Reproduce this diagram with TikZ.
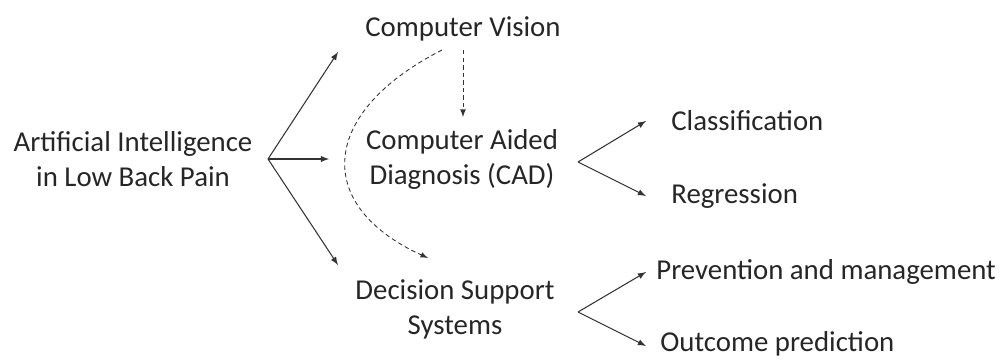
\documentclass[tikz,border=0pt]{standalone}
\usepackage{fontspec}
\setmainfont{Carlito}
\usetikzlibrary{positioning, arrows}
\tikzset{
>=latex, % small filled arrow heads
every node/.style={inner sep=0pt, text=black!85}, % text sits right on the coordinates
topic/.style={align=center, font=\fontsize{16.4}{19.9}\selectfont}, % the centred topics
leaf/.style={anchor=west, font=\fontsize{16.4}{19.9}\selectfont}, % the right hand items
link/.style={->, line width=0.6pt, black!80}, % solid arrows
hint/.style={->, line width=0.5pt, black!80, dash pattern=on 2.5pt off 1.8pt}, % dashed arrows
}

\begin{document}
\begin{tikzpicture}[x=0.02cm, y=-0.02cm]
        \useasboundingbox (0,0) rectangle (999,359);

        % Topics
        \node[topic] (ai) at (133,159) {Artificial Intelligence\\in Low Back Pain};
        \node[topic] (cv) at (463,29) {Computer Vision};
        \node[topic] (cad) at (462,159) {Computer Aided\\Diagnosis (CAD)};
        \node[topic] (dss) at (455,309) {Decision Support\\Systems};

        % Leaves
        \node[leaf] (cls) at (671,121) {Classification};
        \node[leaf] (reg) at (671,196) {Regression};
        \node[leaf] (prev) at (656,272) {Prevention and management};
        \node[leaf] (out) at (660,344) {Outcome prediction};

        % Fork points and arrow ends
        \coordinate (aifork) at (268,159);
        \coordinate (cadfork) at (578,162);
        \coordinate (dssfork) at (578,312);

        \draw[link] (aifork) -- (338,52);
        \draw[link] (aifork) -- (329,159);
        \draw[link] (aifork) -- (338,265);

        \draw[link] (cadfork) -- (646,121);
        \draw[link] (cadfork) -- (646,196);

        \draw[link] (dssfork) -- (646,272);
        \draw[link] (dssfork) -- (646,346);

        % Dashed hints
        \draw[hint] (463,50) -- (463,117);
        \draw[hint] (442,50) .. controls (320,112) and (312,205) .. (428,258);
    \end{tikzpicture}
\end{document}
